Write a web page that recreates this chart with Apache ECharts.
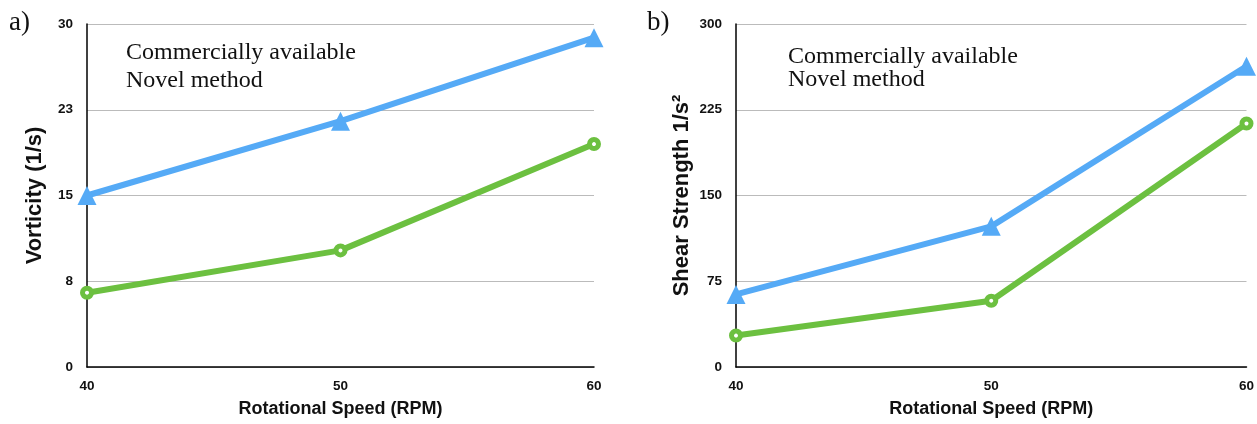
<!DOCTYPE html>
<html>
<head>
<meta charset="utf-8">
<script src="https://cdn.jsdelivr.net/npm/echarts@6/dist/echarts.min.js"></script>
<style>html,body{margin:0;padding:0;background:#fff}#c{width:1257px;height:424px}</style>
</head>
<body>
<div id="c"></div>
<script>
const speeds = [40, 50, 60];
const vortCommercial = [15.0, 21.5, 28.8];
const vortNovel = [6.5, 10.2, 19.5];
const shearCommercial = [63.5, 123, 263];
const shearNovel = [27.5, 58, 213];
const seriesNames = ['Commercially available', 'Novel method'];
const panelLabels = ['a)', 'b)'];
const yTitles = ['Vorticity (1/s)', 'Shear Strength 1/s\u00b2'];
const xTitle = 'Rotational Speed (RPM)';

const BLUE = '#55aaf6', GREEN = '#6cc040';
const sans = 'Liberation Sans, Arial, sans-serif';
const serif = 'Liberation Serif, Times New Roman, serif';

const pair = (xs, ys) => xs.map((x, i) => [x, ys[i]]);

const chart = echarts.init(document.getElementById('c'), null, {renderer: 'canvas'});

function xAxis(gi) {
  return {
    type: 'value', gridIndex: gi, min: 40, max: 60, interval: 10,
    name: xTitle, nameLocation: 'middle', nameGap: 33,
    nameTextStyle: {fontFamily: sans, fontWeight: 'bold', fontSize: 18, color: '#111'},
    axisLine: {show: true, lineStyle: {color: '#000', width: 1.5}},
    axisTick: {show: false},
    splitLine: {show: false},
    axisLabel: {fontFamily: sans, fontWeight: 'bold', fontSize: 13.5, color: '#111', margin: 12}
  };
}
function yAxis(gi, max, interval, gap) {
  return {
    type: 'value', gridIndex: gi, min: 0, max: max, interval: interval,
    name: yTitles[gi], nameLocation: 'middle', nameGap: gap,
    nameTextStyle: {fontFamily: sans, fontWeight: 'bold', fontSize: 22, color: '#111'},
    axisLine: {show: true, lineStyle: {color: '#000', width: 1.5}},
    axisTick: {show: false},
    splitLine: {show: true, lineStyle: {color: '#bbbbbb', width: 1}},
    axisLabel: {fontFamily: sans, fontWeight: 'bold', fontSize: 13.5, color: '#111', margin: 14,
      formatter: v => String(Math.round(v))}
  };
}
function lineSeries(name, gi, data, color, symbol) {
  const isTri = symbol === 'triangle';
  return {
    type: 'line', name: name, xAxisIndex: gi, yAxisIndex: gi,
    data: data, symbol: symbol, symbolSize: isTri ? 19 : 9,
    showAllSymbol: true,
    lineStyle: {color: color, width: 6},
    itemStyle: isTri ? {color: color, borderWidth: 0} : {color: '#fff', borderColor: color, borderWidth: 5},
    emphasis: {disabled: true},
    animation: false, z: isTri ? 3 : 2
  };
}

chart.setOption({
  animation: false,
  backgroundColor: '#fff',
  grid: [
    {left: 87, top: 24, width: 507, height: 343},
    {left: 736, top: 24, width: 511, height: 343}
  ],
  xAxis: [xAxis(0), xAxis(1)],
  yAxis: [yAxis(0, 30, 7.5, 41), yAxis(1, 300, 75, 43)],
  legend: [
    {data: seriesNames, left: 115, top: 36, orient: 'vertical', itemWidth: 0, itemHeight: 0, itemGap: 4,
     selectedMode: false, icon: 'rect',
     textStyle: {fontFamily: serif, fontSize: 24, color: '#111'}},
    {data: seriesNames, left: 777, top: 40, orient: 'vertical', itemWidth: 0, itemHeight: 0, itemGap: -1,
     selectedMode: false, icon: 'rect',
     textStyle: {fontFamily: serif, fontSize: 24, color: '#111'}}
  ],
  graphic: [
    {type: 'text', left: 9, top: 9, style: {text: panelLabels[0], font: '27px ' + serif, fill: '#111'}},
    {type: 'text', left: 647, top: 9, style: {text: panelLabels[1], font: '27px ' + serif, fill: '#111'}}
  ],
  series: [
    lineSeries(seriesNames[0], 0, pair(speeds, vortCommercial), BLUE, 'triangle'),
    lineSeries(seriesNames[1], 0, pair(speeds, vortNovel), GREEN, 'circle'),
    lineSeries(seriesNames[0], 1, pair(speeds, shearCommercial), BLUE, 'triangle'),
    lineSeries(seriesNames[1], 1, pair(speeds, shearNovel), GREEN, 'circle')
  ]
});
</script>
</body>
</html>
